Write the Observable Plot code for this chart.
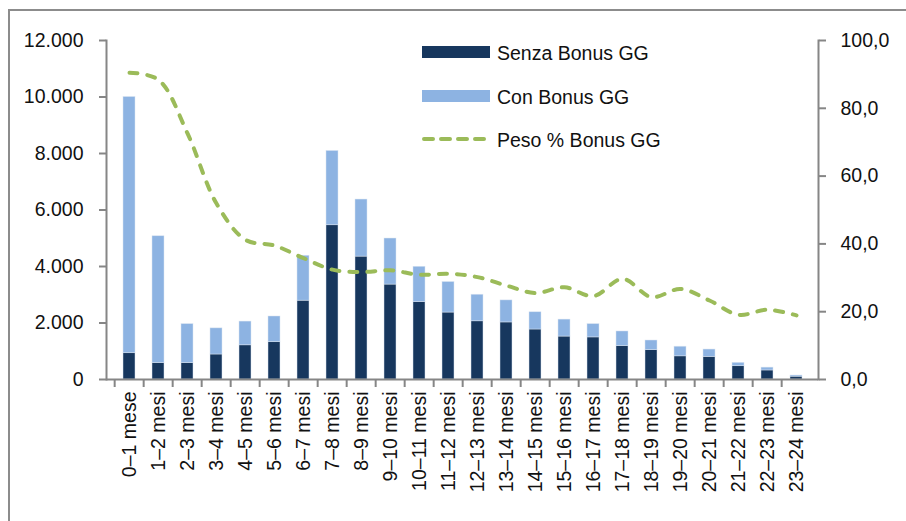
<!DOCTYPE html>
<html>
<head>
<meta charset="utf-8">
<script src="https://cdn.jsdelivr.net/npm/d3@7"></script>
<script src="https://cdn.jsdelivr.net/npm/@observablehq/plot@0.6"></script>
<style>
  html, body { margin: 0; padding: 0; background: #fff; }
  #wrap { position: relative; width: 906px; height: 521px; overflow: hidden; font-family: "Liberation Sans", Arial, sans-serif; }
  #frame { position: absolute; left: 8px; top: 9px; width: 1200px; height: 1200px; border-left: 2px solid #8c8c8c; border-top: 2px solid #8c8c8c; pointer-events: none; }
  #legend { position: absolute; left: 0; top: 0; pointer-events: none; }
</style>
</head>
<body>
<div id="wrap"><div id="chart"></div><div id="frame"></div></div>
<script>
const categorie = ["0–1 mese","1–2 mesi","2–3 mesi","3–4 mesi","4–5 mesi","5–6 mesi","6–7 mesi","7–8 mesi","8–9 mesi","9–10 mesi","10–11 mesi","11–12 mesi","12–13 mesi","13–14 mesi","14–15 mesi","15–16 mesi","16–17 mesi","17–18 mesi","18–19 mesi","19–20 mesi","20–21 mesi","21–22 mesi","22–23 mesi","23–24 mesi"];
const senzaBonus = [930,580,580,885,1210,1320,2790,5460,4350,3360,2740,2370,2060,2020,1770,1520,1490,1180,1040,820,800,470,320,100];
const conBonus   = [9070,4490,1380,925,840,910,1590,2630,2020,1630,1250,1080,940,780,610,600,470,520,340,340,260,120,100,40];
const pesoBonus  = [90.5,88.4,72.6,51.9,41.2,39.5,35.8,32.4,31.7,32.2,30.9,31.2,30.2,27.7,25.5,27.2,24.6,29.7,24.3,26.7,23.3,19.1,20.6,18.9];
const ticksSinistra = [0,2000,4000,6000,8000,10000,12000];
const ticksDestra = [0,20,40,60,80,100];
const serie = ["Senza Bonus GG","Con Bonus GG","Peso % Bonus GG"];

const itLocale = d3.formatLocale({decimal: ",", thousands: ".", grouping: [3], currency: ["€", ""]});
const fmtLeft = itLocale.format(",.0f");
const fmtRight = itLocale.format(".1f");
const ratio = 12000 / 100;

const bars = [];
categorie.forEach((c, i) => {
  bars.push({cat: c, serie: serie[0], v: senzaBonus[i]});
  bars.push({cat: c, serie: serie[1], v: conBonus[i]});
});
const line = categorie.map((c, i) => ({cat: c, v: pesoBonus[i] * ratio}));

const gray = "#868686";
const chart = Plot.plot({
  width: 906, height: 521,
  marginLeft: 106, marginRight: 88, marginTop: 40, marginBottom: 142,
  style: {fontFamily: "Liberation Sans, Arial, sans-serif", fontSize: "19.5px", color: "#111", background: "transparent"},
  x: {type: "band", domain: categorie, paddingInner: 0.6, paddingOuter: 0.3, align: 0.5, label: null},
  y: {domain: [0, 12000], label: null},
  color: {domain: serie.slice(0, 2), range: ["#17375E", "#8DB3E2"]},
  marks: [
    Plot.barY(bars, Plot.stackY({x: "cat", y: "v", fill: "serie", order: serie.slice(0, 2), stroke: "#dbe5f1", strokeWidth: 0.6, strokeOpacity: 0.8})),
    Plot.line(line, {x: "cat", y: "v", stroke: "#9BBB59", strokeWidth: 4, strokeDasharray: "8,10", strokeLinecap: "round", curve: "catmull-rom"}),
    Plot.frame({anchor: "left", stroke: gray, strokeWidth: 2}),
    Plot.frame({anchor: "right", stroke: gray, strokeWidth: 2}),
    Plot.ruleY([0], {stroke: gray, strokeWidth: 2}),
    Plot.ruleX(categorie, {x: d => d, y1: 0, y2: 0, insetBottom: -8, dx: -29.667 / 2, stroke: gray, strokeWidth: 2}),
    Plot.axisY({anchor: "left", ticks: ticksSinistra, tickFormat: fmtLeft, tickSize: 7, tickPadding: 16, stroke: gray, strokeWidth: 2, label: null, fill: "#111"}),
    Plot.axisY({anchor: "right", ticks: ticksDestra.map(d => d * ratio), tickFormat: d => fmtRight(d / ratio), tickSize: 7, tickPadding: 15, stroke: gray, strokeWidth: 2, label: null, fill: "#111"}),
    Plot.axisX({tickSize: 0, tickPadding: 12, tickRotate: -90, label: null, fill: "#111"})
  ]
});
document.getElementById("chart").appendChild(chart);

// Legend (overlay)
const lg = d3.select("#wrap").append("svg").attr("id", "legend").attr("width", 906).attr("height", 521);
const items = [
  {name: serie[0], type: "rect", color: "#17375E", y: 52},
  {name: serie[1], type: "rect", color: "#8DB3E2", y: 96},
  {name: serie[2], type: "line", color: "#9BBB59", y: 139}
];
items.forEach(it => {
  if (it.type === "rect") {
    lg.append("rect").attr("x", 422).attr("y", it.y - 6).attr("width", 68).attr("height", 12).attr("fill", it.color);
  } else {
    lg.append("line").attr("x1", 424).attr("x2", 488).attr("y1", it.y).attr("y2", it.y)
      .attr("stroke", it.color).attr("stroke-width", 4).attr("stroke-dasharray", "9,8").attr("stroke-linecap", "round");
  }
  lg.append("text").attr("x", 497).attr("y", it.y + 7.5).attr("font-size", "19.5px")
    .attr("font-family", "Liberation Sans, Arial, sans-serif").attr("fill", "#111").text(it.name);
});
</script>
</body>
</html>
